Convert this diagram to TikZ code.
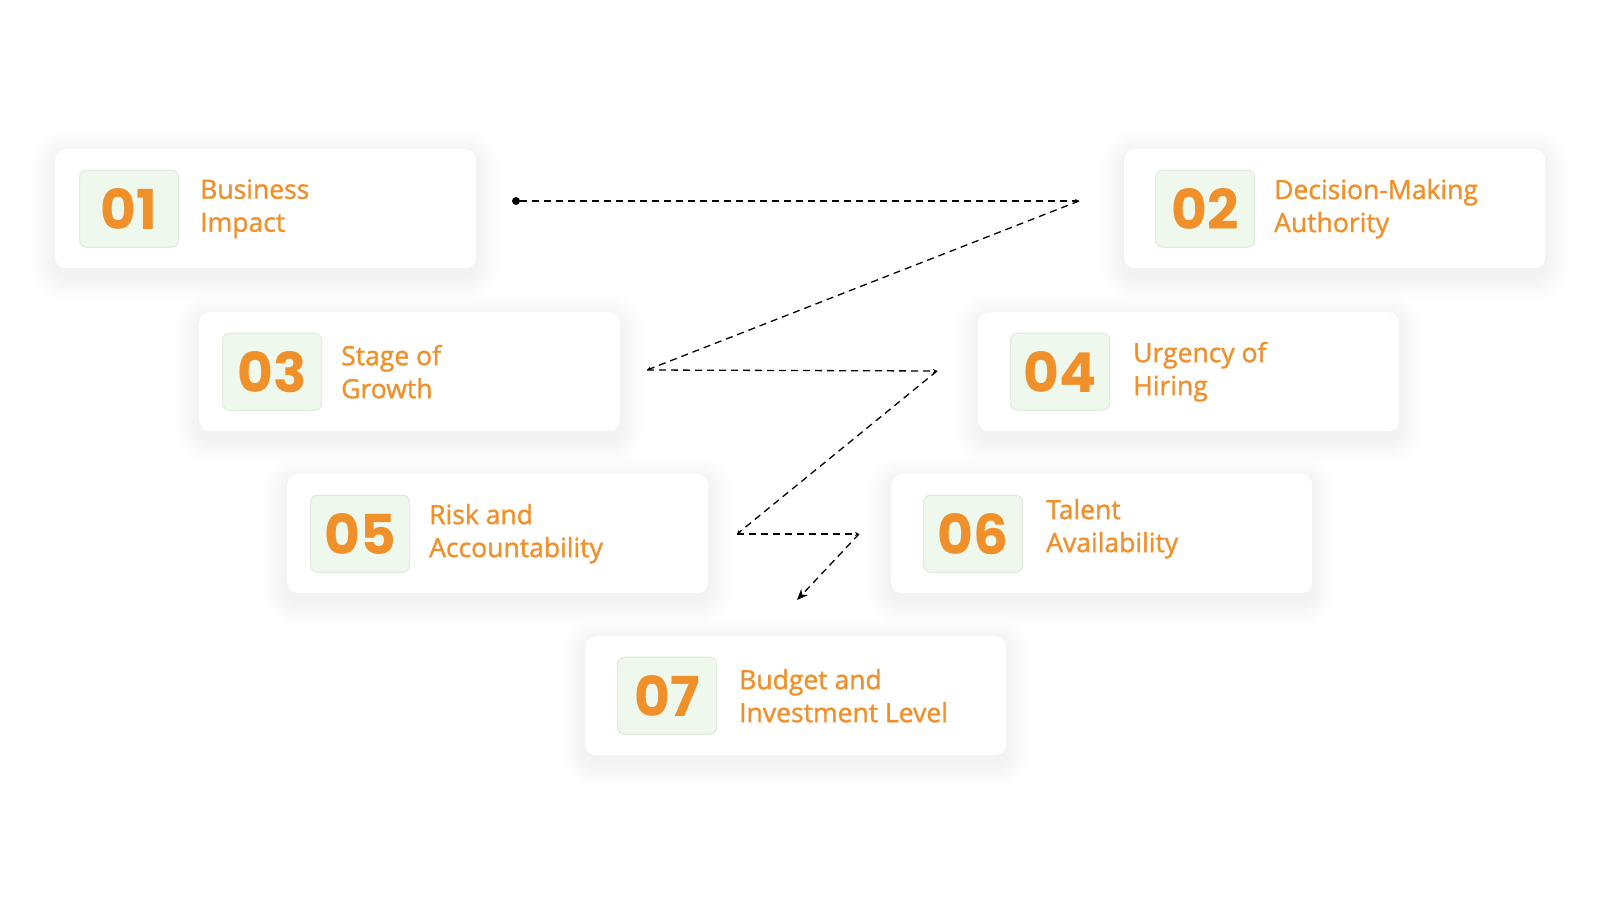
\documentclass[tikz,border=0pt]{standalone}
\usepackage{fontspec}
\setmainfont{Open Sans}[FakeBold=1.2]
\newfontfamily\numfont{Poppins}
\usetikzlibrary{positioning, arrows.meta}
\definecolor{accent}{HTML}{F0902A}
\definecolor{badgefill}{HTML}{EEF8EC}
\definecolor{badgeline}{HTML}{E3EBE1}
\tikzstyle{card}=[fill=white,rounded corners=11pt,minimum width=421pt,minimum height=119pt,inner sep=0pt,anchor=north west]
\tikzstyle{haze}=[black,opacity=0.005]
\tikzstyle{badge}=[fill=badgefill,draw=badgeline,line width=1.2pt,rounded corners=7pt,minimum width=99pt,minimum height=77pt,inner sep=0pt,text=accent,font=\numfont\bfseries\fontsize{55}{55}\selectfont]
\tikzstyle{lbl}=[align=left,text=accent,inner sep=0pt,font=\fontsize{26.5}{33}\selectfont]
\tikzstyle{link}=[black,line width=1.3pt,dash pattern=on 7pt off 5pt]

\begin{document}
\begin{tikzpicture}[x=1pt,y=-1pt]
    \fill[white] (0,0) rectangle (1600,900);
    \useasboundingbox (0,0) rectangle (1600,900);
    \foreach \n/\x/\y/\b/\t/\dy/\num/\txt in {c1/55/149/24/145/0/01/{Business\\Impact}, c2/1124/149/31/150/0/02/{Decision-Making\\Authority}, c3/199/312/23/142/0/03/{Stage of\\Growth}, c4/978/312/32/155/0/04/{Urgency of\\Hiring}, c5/287/474/23/142/0/05/{Risk and\\Accountability}, c6/891/474/32/155/5/06/{Talent\\Availability}, c7/585/636/32/154/0/07/{Budget and\\Investment Level}} {
        \foreach \s in {2,4,...,24}
            \fill[haze,rounded corners=11pt+\s pt] (\x-\s,\y+6-\s) rectangle (\x+421+\s,\y+127+\s);
        \node[card] (\n) at (\x,\y) {};
        \node[badge,right=\b pt of \n.west] (\n b) {\num};
        \node[lbl,right=\t pt of \n.west,yshift=\dy pt] (\n t) {\txt};
    }
    \node[circle,fill=black,inner sep=0pt,minimum size=8pt] (dot) at (516,201) {};
    \coordinate (k1) at (1079,201);
    \coordinate (k2) at (647,370);
    \coordinate (k3) at (937,371);
    \coordinate (k4) at (737,534);
    \coordinate (k5) at (859,534);
    \coordinate (k6) at (797,600);
    \draw[link,-{Stealth[length=4pt,width=4pt]}] (dot) -- (k1);
    \draw[link,-{Stealth[length=4pt,width=4pt]}] (k1) -- (k2);
    \draw[link,-{Stealth[length=4pt,width=4pt]}] (k2) -- (k3);
    \draw[link,-{Stealth[length=4pt,width=4pt]}] (k3) -- (k4);
    \draw[link,-{Stealth[length=4pt,width=4pt]}] (k4) -- (k5);
    \draw[link,-{Stealth[length=11pt,width=9pt]}] (k5) -- (k6);
\end{tikzpicture}
\end{document}
